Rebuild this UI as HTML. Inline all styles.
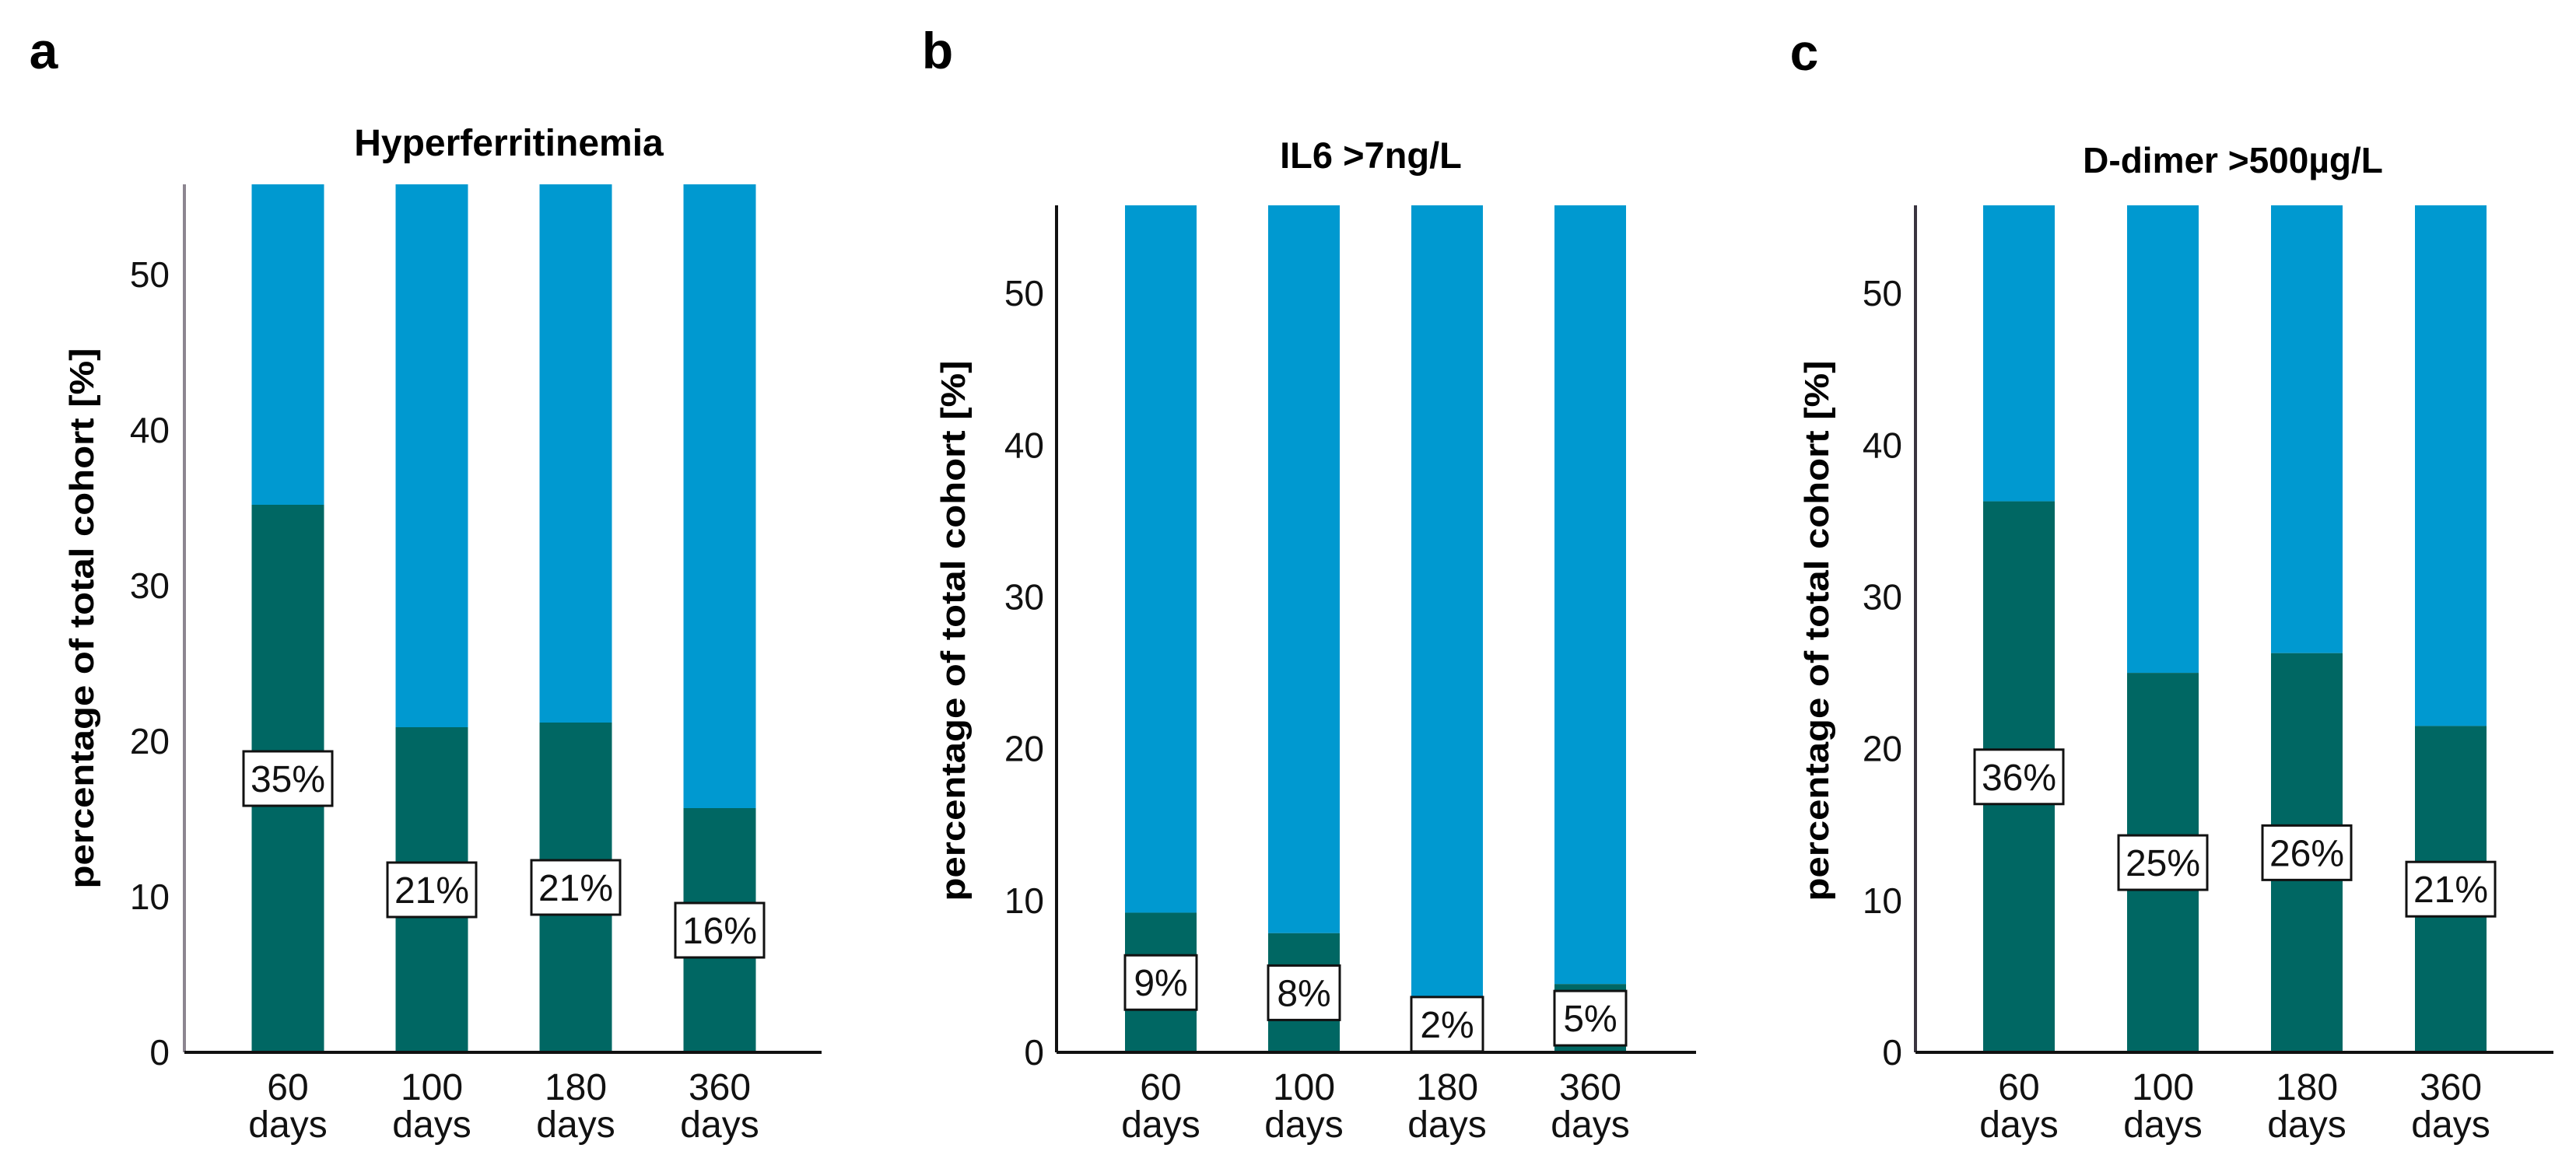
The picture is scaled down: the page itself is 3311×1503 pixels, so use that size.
<!DOCTYPE html>
<html><head><meta charset="utf-8"><style>
html,body{margin:0;padding:0;background:#fff;}
svg{display:block;font-family:"Liberation Sans",Arial,sans-serif;}
</style></head><body>
<svg id="fig" width="3311" height="1503" viewBox="0 0 3311 1503" xmlns="http://www.w3.org/2000/svg"></svg>
<script>
const categories = ["60", "100", "180", "360"];
const yTicks = [0, 10, 20, 30, 40, 50];
const titles = ["Hyperferritinemia", "IL6 >7ng/L", "D-dimer >500\u00b5g/L"];
const panelLetters = ["a", "b", "c"];
const valuesA = [35.2, 20.9, 21.2, 15.7];
const valuesB = [9.2, 7.85, 3.7, 4.5];
const valuesC = [36.3, 25.0, 26.3, 21.5];
const labelsA = ["35%", "21%", "21%", "16%"];
const labelsB = ["9%", "8%", "2%", "5%"];
const labelsC = ["36%", "25%", "26%", "21%"];
const yMax = 55.8;

const svg = document.getElementById('fig');
const NS = 'http://www.w3.org/2000/svg';
function mk(tag, attrs, parent) {
  const e = document.createElementNS(NS, tag);
  for (const k in attrs) e.setAttribute(k, attrs[k]);
  (parent || svg).appendChild(e);
  return e;
}
const panels = [
  {ax: 237, top: 237, base: 1353, right: 1056, first: 370, step: 185, bw: 93, vals: valuesA, labs: labelsA, tickR: 218, ylx: 120, ylc: 795, tx: 654, ty: 200, ts: 48, lx: 56, ly: 88, axColor: '#8c8590'},
  {ax: 1358, top: 264, base: 1353, right: 2180, first: 1492, step: 184, bw: 92, vals: valuesB, labs: labelsB, tickR: 1342, ylx: 1240, ylc: 811, tx: 1762, ty: 216, ts: 47, lx: 1205, ly: 88, axColor: '#111'},
  {ax: 2462, top: 264, base: 1353, right: 3282, first: 2595, step: 185, bw: 92, vals: valuesC, labs: labelsC, tickR: 2445, ylx: 2350, ylc: 811, tx: 2870, ty: 222, ts: 46, lx: 2319, ly: 90, axColor: '#3a3540'}
];
panels.forEach((p, pi) => {
  const g = mk('g', {});
  
  
  const y = v => p.base - (v / yMax) * (p.base - p.top);
  const x = i => p.first + i * p.step;
  const L = mk('text', {x: p.lx, y: p.ly, 'font-size': 66, 'font-weight': 'bold', 'text-anchor': 'middle'}, g);
  
  
  L.textContent = panelLetters[pi];
  const T = mk('text', {x: p.tx, y: p.ty, 'font-size': p.ts, 'font-weight': 'bold', 'text-anchor': 'middle'}, g);
  
  
  T.textContent = titles[pi];
  p.vals.forEach((v, i) => {
    const bt = mk('rect', {x: x(i) - p.bw / 2, y: p.top, width: p.bw, height: y(v) - p.top, fill: '#0099d0'}, g);
    
    
    const bb = mk('rect', {x: x(i) - p.bw / 2, y: y(v), width: p.bw, height: p.base - y(v), fill: '#006763'}, g);
    
    
  });
  const ya = mk('line', {x1: p.ax, y1: p.top, x2: p.ax, y2: p.base, stroke: p.axColor, 'stroke-width': 4}, g);
  
  
  const xa = mk('line', {x1: p.ax, y1: p.base, x2: p.right, y2: p.base, stroke: '#111', 'stroke-width': 4}, g);
  
  
  yTicks.forEach(t => {
    const tl = mk('text', {x: p.tickR, y: y(t) + 16, 'font-size': 46, 'text-anchor': 'end', fill: '#111'}, g);
    
    
    tl.textContent = t;
  });
  categories.forEach((c, i) => {
    const t1 = mk('text', {x: x(i), y: 1414, 'font-size': 48, 'text-anchor': 'middle', fill: '#111'}, g);
    
    
    t1.textContent = c;
    const t2 = mk('text', {x: x(i), y: 1462, 'font-size': 48, 'text-anchor': 'middle', fill: '#111'}, g);
    
    
    t2.textContent = 'days';
  });
  const yl = mk('text', {x: 0, y: 0, 'font-size': 44, 'font-weight': 'bold', 'text-anchor': 'middle', textLength: 695, lengthAdjust: 'spacingAndGlyphs', transform: 'translate(' + p.ylx + ',' + p.ylc + ') rotate(-90)'}, g);
  
  
  yl.textContent = 'percentage of total cohort [%]';
  p.vals.forEach((v, i) => {
    const cy = y(v / 2);
    const w = p.labs[i].length > 2 ? 114 : 92;
    const bx = mk('rect', {x: x(i) - w / 2, y: cy - 35, width: w, height: 70, fill: '#fff', stroke: '#111', 'stroke-width': 3}, g);
    
    
    const tx = mk('text', {x: x(i), y: cy + 17, 'font-size': 48, 'text-anchor': 'middle', fill: '#111'}, g);
    
    
    tx.textContent = p.labs[i];
  });
});
</script>
</body></html>
